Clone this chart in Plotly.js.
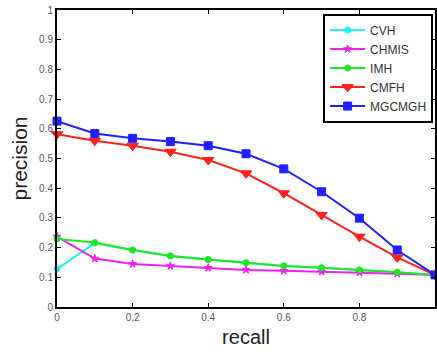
<!DOCTYPE html>
<html><head><meta charset="utf-8">
<script src="https://cdn.plot.ly/plotly-3.0.1.min.js"></script>
<style>html,body{margin:0;padding:0;background:#fff}#chart{width:437px;height:352px}</style>
</head><body><div id="chart"></div>
<script>
const recall = [0, 0.1, 0.2, 0.3, 0.4, 0.5, 0.6, 0.7, 0.8, 0.9, 1.0];
const cvh    = [0.128, 0.215, 0.192, 0.172, 0.160, 0.149, 0.138, 0.132, 0.125, 0.117, 0.108];
const chmis  = [0.237, 0.163, 0.145, 0.138, 0.132, 0.125, 0.122, 0.119, 0.117, 0.112, 0.108];
const imh    = [0.229, 0.217, 0.192, 0.172, 0.160, 0.149, 0.138, 0.132, 0.125, 0.117, 0.108];
const cmfh   = [0.582, 0.560, 0.543, 0.523, 0.495, 0.450, 0.383, 0.310, 0.237, 0.167, 0.108];
const mgcmgh = [0.626, 0.584, 0.568, 0.557, 0.543, 0.516, 0.465, 0.388, 0.299, 0.192, 0.108];
const names = ['CVH', 'CHMIS', 'IMH', 'CMFH', 'MGCMGH'];
const xTicks = [0, 0.2, 0.4, 0.6, 0.8, 1];
const xTickText = ['0', '0.2', '0.4', '0.6', '0.8', '1'];
const yTicks = [0, 0.1, 0.2, 0.3, 0.4, 0.5, 0.6, 0.7, 0.8, 0.9, 1];
const yTickText = ['0', '0.1', '0.2', '0.3', '0.4', '0.5', '0.6', '0.7', '0.8', '0.9', '1'];

const series = [cvh, chmis, imh, cmfh, mgcmgh];
const colors = ['#20f0f5', '#f020f0', '#20e820', '#ff2020', '#2020ff'];
const symbols = ['circle', 'star', 'circle', 'triangle-down', 'square'];
const sizes = [6, 6, 6, 10, 8];

const traces = series.map((s, i) => ({
  x: recall, y: s, name: names[i], type: 'scatter', mode: 'lines+markers',
  line: {color: colors[i], width: 2},
  marker: {color: colors[i], symbol: symbols[i], size: sizes[i], line: {color: colors[i], width: 1}},
  cliponaxis: false
}));

const axisCommon = {
  showgrid: false, zeroline: false, showline: true, mirror: 'ticks',
  linecolor: '#000', linewidth: 2, ticks: 'inside', ticklen: 4, tickcolor: '#000',
  tickfont: {family: 'Liberation Sans, Arial', size: 10, color: '#555a6a'}
};

const layout = {
  width: 437, height: 352,
  margin: {l: 57, r: 2, t: 10, b: 45},
  paper_bgcolor: '#fff', plot_bgcolor: '#fff',
  showlegend: true,
  legend: {
    x: 0.995, y: 0.988, xanchor: 'right', yanchor: 'top',
    bgcolor: '#fff', bordercolor: '#000', borderwidth: 2,
    font: {family: 'Liberation Sans, Arial', size: 12, color: '#333'},
    tracegroupgap: 0, itemwidth: 35
  },
  xaxis: Object.assign({}, axisCommon, {
    range: [0, 1], tickvals: xTicks, ticktext: xTickText,
    title: {text: 'recall', font: {family: 'Liberation Sans, Arial', size: 20, color: '#222'}, standoff: 8}
  }),
  yaxis: Object.assign({}, axisCommon, {
    range: [0, 1], tickvals: yTicks, ticktext: yTickText,
    title: {text: 'precision', font: {family: 'Liberation Sans, Arial', size: 21, color: '#222'}, standoff: 6}
  })
};

Plotly.newPlot('chart', traces, layout, {displayModeBar: false, staticPlot: true});
</script></body></html>
